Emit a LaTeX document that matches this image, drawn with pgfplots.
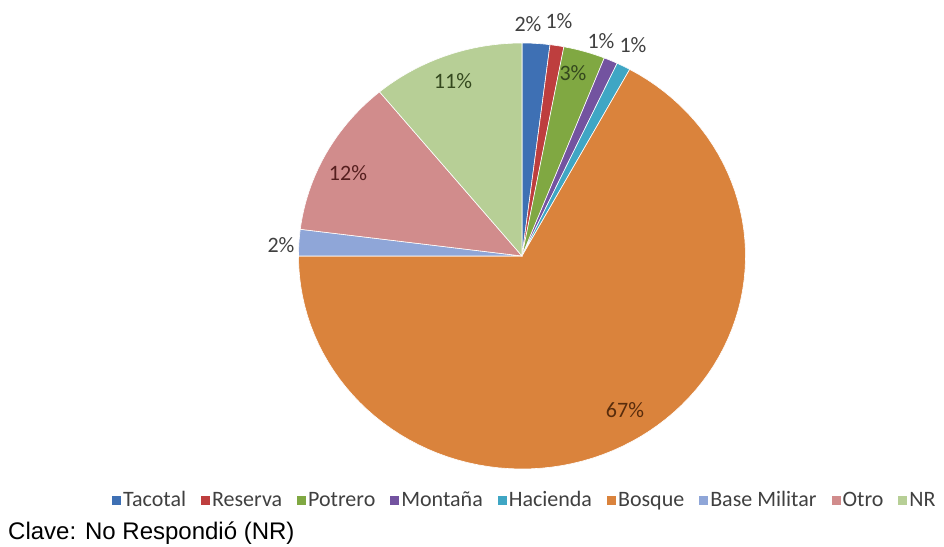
\documentclass[border=0pt]{standalone}
\usepackage{pgfplots}
\pgfplotsset{compat=1.18}
\usepackage{pgfplotstable}
\usepackage{fontspec}
\setmainfont{Carlito}
\newfontfamily\arialfont{Liberation Sans}

\definecolor{slice0}{RGB}{62,112,180}
\definecolor{slice1}{RGB}{190,62,62}
\definecolor{slice2}{RGB}{128,168,66}
\definecolor{slice3}{RGB}{115,83,160}
\definecolor{slice4}{RGB}{63,166,196}
\definecolor{slice5}{RGB}{218,131,60}
\definecolor{slice6}{RGB}{143,166,216}
\definecolor{slice7}{RGB}{209,140,140}
\definecolor{slice8}{RGB}{183,207,150}
\definecolor{lblgray}{RGB}{64,64,64}
\definecolor{dkgreen}{RGB}{52,72,30}
\definecolor{dkred}{RGB}{85,30,30}
\definecolor{dkbrown}{RGB}{88,44,12}

\pgfplotstableread{
name value
Tacotal 2
Reserva 1
Potrero 3
Montana 1
Hacienda 1
Bosque 67
BaseMilitar 2
Otro 12
NR 11
}\piedata

\begin{document}
\begin{tikzpicture}
\begin{axis}[
  scale only axis, width=944pt, height=546pt,
  xmin=0, xmax=944, ymin=0, ymax=546,
  hide axis, clip=false,
  legend columns=-1,
  legend entries={Tacotal,Reserva,Potrero,Montaña,Hacienda,Bosque,Base Militar,Otro,NR},
  legend style={draw=none, fill=none, text=lblgray,
    font=\fontsize{22}{26}\selectfont,
    at={(0.556,0.0842)}, anchor=center,
    nodes={inner sep=2pt},
    /tikz/every even column/.append style={column sep=13pt}},
  legend image code/.code={\path[#1, draw=none] (0pt,-4.5pt) rectangle (9pt,4.5pt);},
]
\def\cum{0}
\pgfplotsforeachungrouped \i in {0,...,8}{%
  \pgfplotstablegetelem{\i}{value}\of\piedata
  \let\val\pgfplotsretval
  \pgfmathsetmacro\angA{90-3.6*\cum}%
  \pgfmathsetmacro\angB{90-3.6*(\cum+\val)}%
  \pgfmathsetmacro\cum{\cum+\val}%
  \edef\doslice{\noexpand\addplot[fill=slice\i, draw=white, line width=0.6pt, domain=\angB:\angA, samples=90, variable=\noexpand\t] ({522+223.5*cos(\noexpand\t)},{290+213*sin(\noexpand\t)}) -- (axis cs:522,290) -- cycle;}%
  \doslice
}
\begin{scope}[font=\fontsize{22}{26}\selectfont]
\node[text=lblgray] at (axis cs:528,522) {2\%};
\node[text=lblgray] at (axis cs:559,525) {1\%};
\node[text=dkgreen] at (axis cs:573,473) {3\%};
\node[text=lblgray] at (axis cs:601,505) {1\%};
\node[text=lblgray] at (axis cs:633,501) {1\%};
\node[text=dkbrown] at (axis cs:625,136) {67\%};
\node[text=lblgray] at (axis cs:281,301) {2\%};
\node[text=dkred] at (axis cs:348,373) {12\%};
\node[text=dkgreen] at (axis cs:453,465) {11\%};
\end{scope}
\node[anchor=base west, inner sep=0pt, font=\arialfont\fontsize{24}{28}\selectfont] at (axis cs:8,6.5) {Clave: No Respondió (NR)};
\end{axis}
\pgfresetboundingbox
\path (current axis.south west) rectangle (current axis.north east);
\end{tikzpicture}
\end{document}
